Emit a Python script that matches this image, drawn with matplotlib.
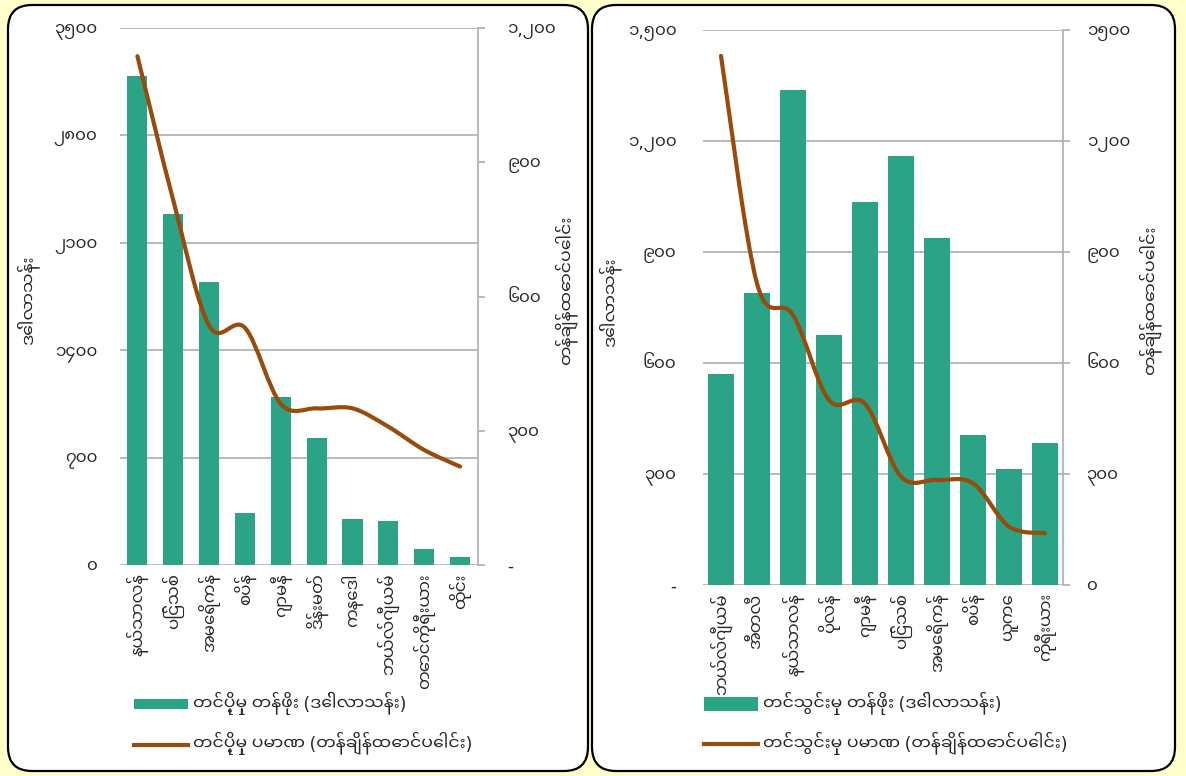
import matplotlib
matplotlib.use("Agg")
import matplotlib.pyplot as plt
from matplotlib import font_manager
from matplotlib.patches import FancyBboxPatch, PathPatch, Patch
from matplotlib.lines import Line2D
from matplotlib.path import Path
from matplotlib.transforms import IdentityTransform
import numpy as np

# ---------------- data ----------------
export_countries = ["နယ်သာလန်", "ပြင်သစ်", "အမေရိကန်", "စပိန်", "ဂျာမနီ",
                    "ဒိန်းမတ်", "ကနေဒါ", "ဘယ်လ်ဂျီယမ်", "တောင်ကိုရီးယား", "ထိုင်း"]
export_value = [3190, 2290, 1845, 337, 1093, 828, 300, 287, 102, 52]
export_volume = [1137, 815, 535, 530, 360, 350, 350, 309, 257, 220]

import_countries = ["ဘယ်လ်ဂျီယမ်", "အီတလီ", "နယ်သာလန်", "ပိုလန်", "ဂျာမနီ",
                    "ပြင်သစ်", "အမေရိကန်", "စပိန်", "ယူကေ", "ကိုရီးယား"]
import_value = [570, 790, 1338, 676, 1036, 1160, 939, 405, 313, 385]
import_volume = [1430, 815, 730, 500, 490, 293, 284, 275, 158, 140]

exp_left_ticks = [0, 700, 1400, 2100, 2800, 3500]
exp_left_labels = ["၀", "၇၀၀", "၁၄၀၀", "၂၁၀၀", "၂၈၀၀", "၃၅၀၀"]
exp_right_ticks = [0, 300, 600, 900, 1200]
exp_right_labels = ["-", "၃၀၀", "၆၀၀", "၉၀၀", "၁,၂၀၀"]
imp_left_ticks = [0, 300, 600, 900, 1200, 1500]
imp_left_labels = ["-", "၃၀၀", "၆၀၀", "၉၀၀", "၁,၂၀၀", "၁,၅၀၀"]
imp_right_ticks = [0, 300, 600, 900, 1200, 1500]
imp_right_labels = ["၀", "၃၀၀", "၆၀၀", "၉၀၀", "၁၂၀၀", "၁၅၀၀"]

value_title = "ဒေါ်လာသန်း"
volume_title = "တန်ချိန်ထောင်ပေါင်း"
exp_bar_legend = "တင်ပို့မှု တန်ဖိုး (ဒေါ်လာသန်း)"
exp_line_legend = "တင်ပို့မှု ပမာဏ (တန်ချိန်ထောင်ပေါင်း)"
imp_bar_legend = "တင်သွင်းမှု တန်ဖိုး (ဒေါ်လာသန်း)"
imp_line_legend = "တင်သွင်းမှု ပမာဏ (တန်ချိန်ထောင်ပေါင်း)"

# ---------------- fonts ----------------
installed = {f.name for f in font_manager.fontManager.ttflist}
mm_choice = [n for n in ["Noto Sans Myanmar UI", "Noto Sans Myanmar", "Padauk",
                         "Myanmar Khyay"] if n in installed][:1]
plt.rcParams["font.family"] = mm_choice + ["DejaVu Sans"]

BG = "#FFFFCC"
BAR = "#2BA386"
LINE = "#974C0C"
GRID = "#ADADAD"
TXT = "#262626"

W, H = 1186, 776
fig = plt.figure(figsize=(W / 100, H / 100), dpi=100, facecolor=BG)

# panels
for x0, x1 in [(8, 588), (592, 1175)]:
    p = FancyBboxPatch((x0, 5), x1 - x0, 766,
                       boxstyle="round,pad=0,rounding_size=24",
                       transform=IdentityTransform(), facecolor="white",
                       edgecolor="black", linewidth=1.6, zorder=0)
    fig.add_artist(p)


def px(x, y):
    return x / W, 1 - y / H


def smooth_path(xs, ys):
    pts = np.column_stack([xs, ys]).astype(float)
    n = len(pts)
    verts = [pts[0]]
    codes = [Path.MOVETO]
    for i in range(n - 1):
        p0 = pts[i - 1] if i > 0 else pts[i]
        p1 = pts[i]
        p2 = pts[i + 1]
        p3 = pts[i + 2] if i + 2 < n else pts[i + 1]
        verts += [p1 + (p2 - p0) / 6, p2 - (p3 - p1) / 6, p2]
        codes += [Path.CURVE4] * 3
    return Path(verts, codes)


def make_panel(left, right, top, bottom, cats, vals, vols, bw,
               lt, ll, rt, rl, lpad, rpad):
    x0, y0 = px(left, bottom)
    x1, y1 = px(right, top)
    ax = fig.add_axes([x0, y0, x1 - x0, y1 - y0])
    ax.set_facecolor("none")
    x = np.arange(len(cats))
    ax.bar(x, vals, width=bw, color=BAR, zorder=2)
    ax.set_xlim(-0.5, len(cats) - 0.5)
    ax.set_ylim(lt[0], lt[-1])
    ax.set_yticks(lt)
    ax.set_yticklabels(ll, fontsize=12, color=TXT)
    ax.tick_params(axis="y", length=0, pad=lpad)
    ax.set_xticks(x)
    ax.set_xticklabels(cats, rotation=90, fontsize=12, color=TXT)
    ax.tick_params(axis="x", length=0, pad=6)
    ax.yaxis.grid(True, color=GRID, linewidth=1.2, zorder=0)
    ax.set_axisbelow(True)
    for s in ax.spines.values():
        s.set_visible(False)

    ax2 = ax.twinx()
    ax2.set_ylim(rt[0], rt[-1])
    ax2.set_yticks(rt)
    ax2.set_yticklabels(rl, fontsize=12, color=TXT)
    ax2.tick_params(axis="y", length=5, width=1.2, color=GRID, pad=rpad)
    for k, s in ax2.spines.items():
        s.set_visible(k == "right")
    ax2.spines["right"].set_color(GRID)
    ax2.spines["right"].set_linewidth(1.2)
    path = smooth_path(x, vols)
    ax2.add_patch(PathPatch(path, fill=False, edgecolor=LINE, linewidth=3.0,
                            capstyle="round", joinstyle="round",
                            transform=ax2.transData, zorder=3))
    return ax, ax2


ax1, ax1b = make_panel(119.5, 478, 28, 565, export_countries, export_value,
                       export_volume, 0.56, exp_left_ticks, exp_left_labels,
                       exp_right_ticks, exp_right_labels, 16, 16)
ax2, ax2b = make_panel(703, 1063, 30, 585, import_countries, import_value,
                       import_volume, 0.70, imp_left_ticks, imp_left_labels,
                       imp_right_ticks, imp_right_labels, 19, 12)

# axis titles
for (xx, yy, t) in [(28, 300, value_title), (566, 290, volume_title),
                    (610, 302, value_title), (1150, 300, volume_title)]:
    fig.text(*px(xx, yy), t, rotation=90, ha="center", va="center",
             fontsize=12.5, color=TXT)

# legends
for ax, xleft, hh, (bl, ll) in [(ax1, 134, 0.55, (exp_bar_legend, exp_line_legend)),
                                (ax2, 704, 0.9, (imp_bar_legend, imp_line_legend))]:
    handles = [Patch(facecolor=BAR, edgecolor="none"),
               Line2D([], [], color=LINE, linewidth=3)]
    leg = ax.legend(handles, [bl, ll], loc="upper left",
                    bbox_to_anchor=px(xleft, 692), bbox_transform=fig.transFigure,
                    frameon=False, borderaxespad=0, borderpad=0,
                    handlelength=3.1, handleheight=hh, handletextpad=0.3,
                    labelspacing=1.0, fontsize=12.5)
    for t in leg.get_texts():
        t.set_color(TXT)

fig.savefig("out.png", dpi=100, facecolor=BG)
